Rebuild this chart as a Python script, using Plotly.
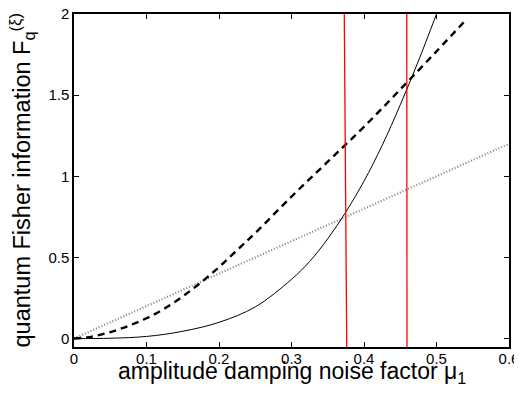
import plotly.graph_objects as go

# dotted series: linear
dot_mu = [0.0, 0.6]
dot_val = [0.0, 1.2]

# dashed series
dash_mu = [0, 0.025, 0.05, 0.075, 0.1, 0.125, 0.15, 0.175, 0.2, 0.225, 0.25, 0.3, 0.35, 0.4, 0.45, 0.5, 0.542]
dash_val = [0, 0.012, 0.04, 0.078, 0.125, 0.185, 0.26, 0.345, 0.44, 0.545, 0.65, 0.875, 1.09, 1.305, 1.535, 1.77, 1.97]

# solid series
solid_mu = [0, 0.05, 0.1, 0.15, 0.2, 0.25, 0.3, 0.325, 0.35, 0.375, 0.4, 0.425, 0.45, 0.475, 0.5]
solid_val = [0, 0.002, 0.013, 0.045, 0.10, 0.195, 0.365, 0.475, 0.615, 0.78, 0.97, 1.19, 1.44, 1.71, 2.0]

# red near-vertical lines
red1_mu = [0.3728, 0.3762]
red1_val = [2.0, -0.052]
red2_mu = [0.459, 0.4593]
red2_val = [2.0, -0.052]

xticks = [0, 0.1, 0.2, 0.3, 0.4, 0.5, 0.6]
xticklabels = ["0", "0.1", "0.2", "0.3", "0.4", "0.5", "0.6"]
yticks = [0, 0.5, 1, 1.5, 2]
yticklabels = ["0", "0.5", "1", "1.5", "2"]

fig = go.Figure()
fig.add_trace(go.Scatter(x=dot_mu, y=dot_val, mode="lines",
                         line=dict(color="#808080", width=2.2, dash="1px,2px")))
fig.add_trace(go.Scatter(x=dash_mu, y=dash_val, mode="lines", line_shape="spline",
                         line=dict(color="black", width=2.4, dash="7px,5px")))
fig.add_trace(go.Scatter(x=solid_mu, y=solid_val, mode="lines", line_shape="spline",
                         line=dict(color="black", width=1)))
fig.add_trace(go.Scatter(x=red1_mu, y=red1_val, mode="lines",
                         line=dict(color="red", width=1.3)))
fig.add_trace(go.Scatter(x=red2_mu, y=red2_val, mode="lines",
                         line=dict(color="red", width=1.3)))

font = "Liberation Sans, Arial, Helvetica, sans-serif"
# page body has an 8px margin, so the figure is 8px smaller and margins shifted
fig.update_layout(
    width=514, height=388,
    margin=dict(l=66, r=13, t=6, b=49, autoexpand=False),
    paper_bgcolor="white", plot_bgcolor="white",
    showlegend=False,
    font=dict(family=font, color="black", size=15),
    annotations=[
        dict(text="amplitude damping noise factor μ<sub>1</sub>", xref="paper", yref="paper",
             x=0.5, y=0, xanchor="center", yanchor="top", yshift=-9, showarrow=False,
             font=dict(size=23)),
        dict(text="quantum Fisher information F<sub>q</sub><sup>(ξ)</sup>", xref="paper", yref="paper",
             x=0, y=0.5, xanchor="center", yanchor="middle", xshift=-52, yshift=0, textangle=-90,
             showarrow=False, font=dict(size=23.5)),
    ],
)
fig.update_xaxes(range=[0, 0.6], tickvals=xticks, ticktext=xticklabels, automargin=False,
                 ticks="inside", ticklen=5, tickcolor="black", mirror="ticks",
                 showline=True, linecolor="black", linewidth=1.5, showgrid=False, zeroline=False,
                 tickfont=dict(size=15), ticklabeloverflow="allow", ticklabelstandoff=-3)
fig.update_yaxes(range=[-0.052, 2], tickvals=yticks, ticktext=yticklabels, automargin=False,
                 ticks="inside", ticklen=5, tickcolor="black", mirror="ticks",
                 showline=True, linecolor="black", linewidth=1.5, showgrid=False, zeroline=False,
                 tickfont=dict(size=15), ticklabeloverflow="allow")

fig.write_html("out.html")
